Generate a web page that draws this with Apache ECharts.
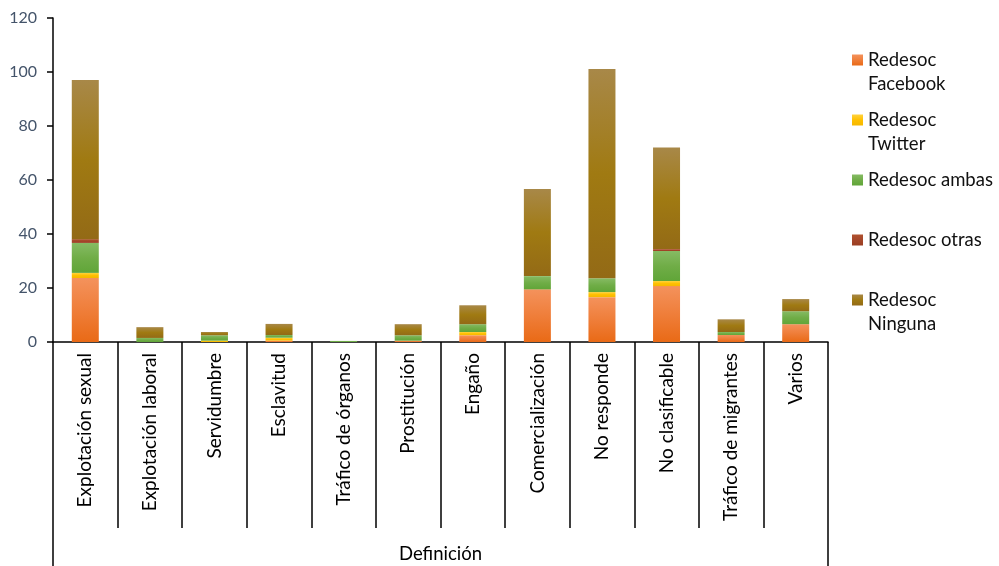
<!DOCTYPE html>
<html>
<head>
<meta charset="utf-8">
<script src="https://cdn.jsdelivr.net/npm/echarts@6/dist/echarts.min.js"></script>
<style>html,body{margin:0;padding:0;background:#fff}#c{width:999px;height:566px}</style>
</head>
<body>
<div id="c"></div>
<script>
const categories = ['Explotación sexual','Explotación laboral','Servidumbre','Esclavitud','Tráfico de órganos','Prostitución','Engaño','Comercialización','No responde','No clasificable','Tráfico de migrantes','Varios'];
const facebook = [23.7, 0, 0, 0.5, 0, 0.5, 2.5, 19.5, 16.6, 20.7, 2.6, 6.6];
const twitter  = [1.9, 0, 0.5, 1.1, 0, 0, 1.2, 0, 1.9, 1.9, 0, 0];
const ambas    = [11.1, 1.5, 2.0, 1.0, 0.4, 2.0, 2.9, 4.9, 5.1, 11.1, 1.1, 4.8];
const otras    = [1.4, 0, 0, 0, 0, 0, 0, 0, 0, 0.7, 0, 0];
const ninguna  = [58.9, 4.0, 1.2, 4.1, 0, 4.1, 7.0, 32.3, 77.5, 37.6, 4.7, 4.5];
const yTicks = {min: 0, max: 120, interval: 20};
const axisTitle = 'Definición';

function grad(stops){
  return new echarts.graphic.LinearGradient(0,0,0,1, stops.map((c,i)=>({offset:i/(stops.length-1), color:c})));
}
const FONT = 'Lato';
const seriesDefs = [
  {name:'Redesoc Facebook', data:facebook, color:grad(['#F4925C','#EF7E3A','#E96A16'])},
  {name:'Redesoc Twitter', data:twitter, color:grad(['#FFD23F','#FFC000','#F5B800'])},
  {name:'Redesoc ambas', data:ambas, color:grad(['#86BB64','#70AD47','#60A538'])},
  {name:'Redesoc otras', data:otras, color:grad(['#B0522F','#A5462A','#9A3E22'])},
  {name:'Redesoc Ninguna', data:ninguna, color:grad(['#A88848','#A07A12','#936A16'])}
];

const chart = echarts.init(document.getElementById('c'), null, {renderer:'canvas'});
chart.setOption({
  animation:false,
  backgroundColor:'#fff',
  grid:{left:53, right:171, top:18, bottom:224, containLabel:false},
  legend:{
    orient:'vertical', left:852, top:24, padding:0,
    itemWidth:11, itemHeight:11, itemGap:-12, icon:'rect',
    textStyle:{fontFamily:FONT, fontSize:18.5, lineHeight:24, color:'#111'},
    formatter:function(n){
      if(n==='Redesoc ambas'||n==='Redesoc otras') return ' \n'+n+'\n ';
      return ' \n'+n.replace(' ','\n');
    }
  },
  xAxis:[{
    type:'category', data:categories, position:'bottom',
    axisLine:{show:true, lineStyle:{color:'#000', width:1.5}},
    axisTick:{show:true, interval:0, length:186, lineStyle:{color:'#000', width:1.5}},
    axisLabel:{interval:0, rotate:90, margin:11, fontFamily:FONT, fontSize:19, color:'#000'},
    splitLine:{show:false}
  },{
    type:'category', data:[axisTitle], position:'bottom', offset:0,
    axisLine:{show:false},
    axisTick:{show:true, interval:0, length:226, lineStyle:{color:'#000', width:1.5}},
    axisLabel:{interval:0, margin:203, fontFamily:FONT, fontSize:18.5, color:'#000'},
    splitLine:{show:false}
  }],
  yAxis:{
    type:'value', min:yTicks.min, max:yTicks.max, interval:yTicks.interval,
    axisLine:{show:true, lineStyle:{color:'#000', width:1.5}},
    axisTick:{show:true, length:6, lineStyle:{color:'#000', width:1.5}},
    axisLabel:{margin:16, fontFamily:FONT, fontSize:16, color:'#44546A'},
    splitLine:{show:false}
  },
  series: seriesDefs.map(s=>({
    name:s.name, type:'bar', stack:'total', xAxisIndex:0, barWidth:27,
    data:s.data, itemStyle:{color:s.color}
  }))
});
</script>
</body>
</html>
